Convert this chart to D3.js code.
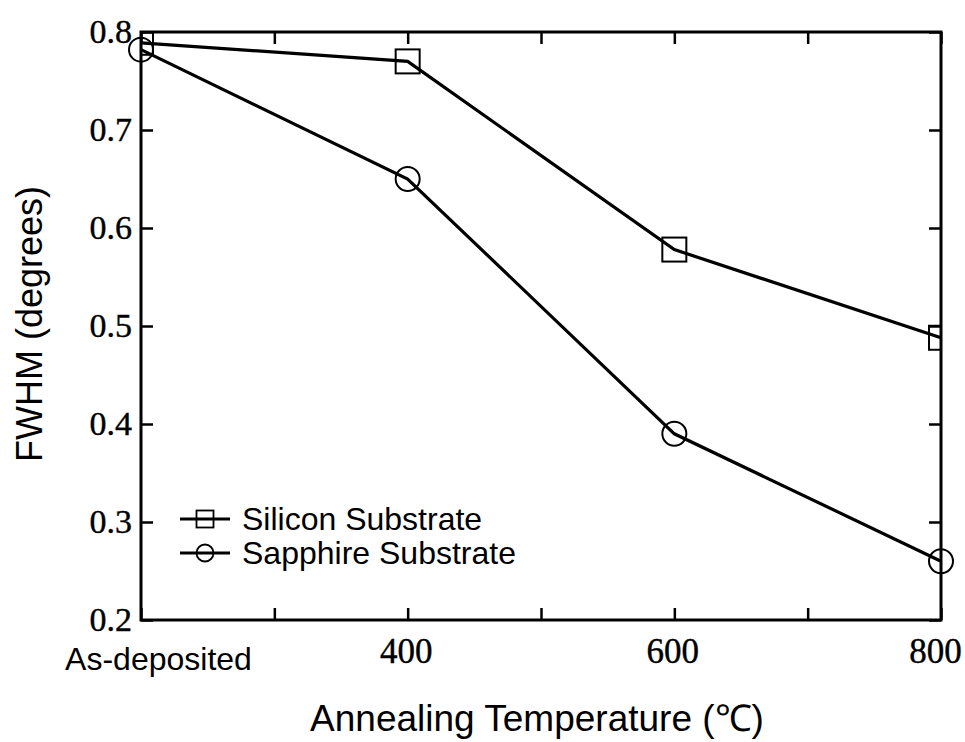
<!DOCTYPE html>
<html>
<head>
<meta charset="utf-8">
<script src="https://cdn.jsdelivr.net/npm/d3@7"></script>
<style>
  body { margin: 0; background: #fff; }
  .serif { font-family: "Liberation Serif", "Times New Roman", serif; }
  .sans { font-family: "Liberation Sans", Arial, sans-serif; }
</style>
</head>
<body>
<div id="chart"></div>
<script>
// data
var tempLabels = ["As-deposited", "400", "600", "800"];
var tempPos = [200, 400, 600, 800];
var silicon = [0.789, 0.770, 0.578, 0.488];
var sapphire = [0.782, 0.650, 0.390, 0.260];
var yTicks = [0.2, 0.3, 0.4, 0.5, 0.6, 0.7, 0.8];
var xTicks = [200, 300, 400, 500, 600, 700, 800];

var svgWidth = 965;
var svgHeight = 742;

var margin = { top: 32, right: 24, bottom: 122, left: 141 };
var width = svgWidth - margin.left - margin.right;
var height = svgHeight - margin.top - margin.bottom;

var svg = d3.select("#chart")
  .append("svg")
  .attr("width", svgWidth)
  .attr("height", svgHeight);

var chartGroup = svg.append("g")
  .attr("transform", `translate(${margin.left}, ${margin.top})`);

var xScale = d3.scaleLinear().domain([200, 800]).range([0, width]);
var yScale = d3.scaleLinear().domain([0.2, 0.8]).range([height, 0]);

// clip for the squares (the first one is cut by the axis)
svg.append("defs").append("clipPath").attr("id", "plotClip")
  .append("rect").attr("width", width).attr("height", height);

// ticks point inward on all four sides
function labelFor(v) {
  var i = tempPos.indexOf(v);
  return i >= 0 ? tempLabels[i] : "";
}

var bottomAxis = d3.axisBottom(xScale).tickValues(xTicks)
  .tickSizeInner(-12).tickSizeOuter(0).tickPadding(18)
  .tickFormat(labelFor);
var topAxis = d3.axisTop(xScale).tickValues(xTicks)
  .tickSizeInner(-12).tickSizeOuter(0).tickFormat("");
var leftAxis = d3.axisLeft(yScale).tickValues(yTicks)
  .tickSizeInner(-12).tickSizeOuter(0).tickPadding(9)
  .tickFormat(d3.format(".1f"));
var rightAxis = d3.axisRight(yScale).tickValues(yTicks)
  .tickSizeInner(-12).tickSizeOuter(0).tickFormat("");

var xAxis = chartGroup.append("g")
  .attr("transform", `translate(0, ${height})`)
  .call(bottomAxis);
chartGroup.append("g").call(topAxis);
var yAxis = chartGroup.append("g").call(leftAxis);
chartGroup.append("g").attr("transform", `translate(${width}, 0)`).call(rightAxis);

chartGroup.selectAll(".domain").remove();
chartGroup.selectAll(".tick line").attr("stroke", "#000").attr("stroke-width", 2.5);

yAxis.selectAll("text")
  .attr("class", "serif")
  .style("font-size", "34px")
  .attr("fill", "#000")
  .attr("stroke", "#000")
  .attr("stroke-width", 0.4);

xAxis.selectAll("text")
  .attr("class", d => d === 200 ? "sans" : "serif")
  .style("font-size", d => d === 200 ? "32px" : "35px")
  .attr("fill", "#000")
  .attr("stroke", "#000")
  .attr("stroke-width", d => d === 200 ? 0 : 0.4)
  .attr("dx", d => d === 200 ? 17 : (d === 800 ? -6 : -2))
  .attr("dy", d => d === 200 ? "1.0em" : "0.71em");

// frame
chartGroup.append("rect")
  .attr("width", width)
  .attr("height", height)
  .attr("fill", "none")
  .attr("stroke", "#000")
  .attr("stroke-width", 3);

var line = d3.line()
  .x((d, i) => xScale(tempPos[i]))
  .y(d => yScale(d));

chartGroup.append("path")
  .datum(silicon)
  .attr("d", line)
  .attr("fill", "none")
  .attr("stroke", "#000")
  .attr("stroke-width", 3.2);

chartGroup.append("path")
  .datum(sapphire)
  .attr("d", line)
  .attr("fill", "none")
  .attr("stroke", "#000")
  .attr("stroke-width", 3.2);

chartGroup.append("g")
  .attr("clip-path", "url(#plotClip)")
  .selectAll("rect")
  .data(silicon)
  .enter()
  .append("rect")
  .attr("x", (d, i) => xScale(tempPos[i]) - 12)
  .attr("y", d => yScale(d) - 12)
  .attr("width", 24)
  .attr("height", 24)
  .attr("fill", "none")
  .attr("stroke", "#000")
  .attr("stroke-width", 2);

chartGroup.selectAll(".sapph")
  .data(sapphire)
  .enter()
  .append("circle")
  .attr("class", "sapph")
  .attr("cx", (d, i) => xScale(tempPos[i]))
  .attr("cy", d => yScale(d))
  .attr("r", 12)
  .attr("fill", "none")
  .attr("stroke", "#000")
  .attr("stroke-width", 2);

// legend
var legend = chartGroup.append("g")
  .attr("transform", `translate(${180 - margin.left}, ${519 - margin.top})`);

var entries = [
  { name: "Silicon Substrate", shape: "square" },
  { name: "Sapphire Substrate", shape: "circle" }
];

entries.forEach(function(e, i) {
  var g = legend.append("g").attr("transform", `translate(0, ${i * 34})`);
  g.append("line")
    .attr("x1", 0).attr("x2", 50)
    .attr("stroke", "#000").attr("stroke-width", 2.8);
  if (e.shape === "square") {
    g.append("rect")
      .attr("x", 25 - 8.5).attr("y", -8.5)
      .attr("width", 17).attr("height", 17)
      .attr("fill", "none").attr("stroke", "#000").attr("stroke-width", 1.8);
  } else {
    g.append("circle")
      .attr("cx", 25).attr("r", 8.5)
      .attr("fill", "none").attr("stroke", "#000").attr("stroke-width", 1.8);
  }
  g.append("text")
    .attr("class", "sans")
    .attr("x", 62)
    .attr("y", 11)
    .style("font-size", "32px")
    .text(e.name);
});

// axis titles
svg.append("text")
  .attr("class", "sans")
  .attr("x", 537)
  .attr("y", 731)
  .attr("text-anchor", "middle")
  .style("font-size", "37px")
  .text("Annealing Temperature (℃)");

svg.append("text")
  .attr("class", "sans")
  .attr("transform", "translate(42, 324) rotate(-90)")
  .attr("text-anchor", "middle")
  .style("font-size", "36px")
  .text("FWHM (degrees)");
</script>
</body>
</html>
